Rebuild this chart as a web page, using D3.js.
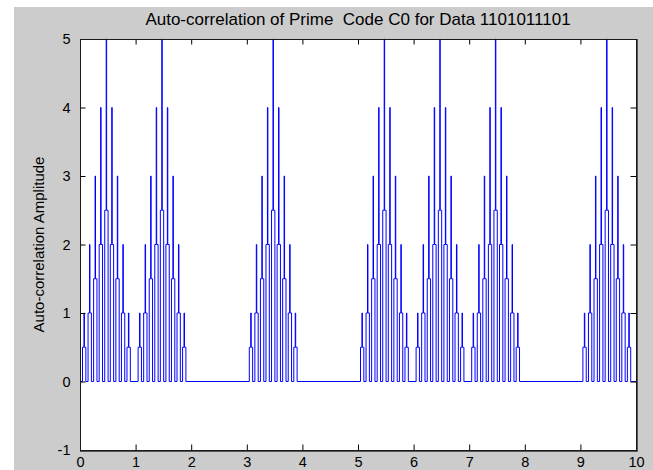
<!DOCTYPE html>
<html>
<head>
<meta charset="utf-8">
<script src="https://cdn.jsdelivr.net/npm/d3@7/dist/d3.min.js"></script>
<style>
  html, body { margin: 0; padding: 0; background: #ffffff; }
  svg { display: block; }
  text { font-family: "Liberation Sans", Arial, sans-serif; fill: #000; }
</style>
</head>
<body>
<script>
// Transmitted data bits; a correlation burst appears in every '1' slot
const dataBits = [1, 1, 0, 1, 0, 1, 1, 1, 0, 1];

// Lags of the correlation peaks inside one bit slot (in bit units)
const peakLags = [0.075, 0.175, 0.275, 0.375, 0.475, 0.575, 0.675, 0.775, 0.875];
// Main peak amplitude at each lag
const peakValues = [1, 2, 3, 4, 5, 4, 3, 2, 1];
// Half-chip shoulder amplitude around each peak
const shoulderValues = [0.5, 1, 1.5, 2, 2.5, 2, 1.5, 1, 0.5];

const xTicks = [0, 1, 2, 3, 4, 5, 6, 7, 8, 9, 10];
const yTicks = [-1, 0, 1, 2, 3, 4, 5];

const titleText = "Auto-correlation of Prime  Code C0 for Data 1101011101";
const yLabelText = "Auto-correlation Amplitude";

const W = 653, H = 470;
const plot = { left: 80, right: 636, top: 39, bottom: 450 };

const svg = d3.select("body").append("svg")
  .attr("width", W).attr("height", H);

// figure background
svg.append("rect").attr("x", 14).attr("y", 7)
  .attr("width", W - 14).attr("height", H - 7)
  .attr("fill", "#cccccc");

const x = d3.scaleLinear().domain([0, 10]).range([plot.left, plot.right]);
const y = d3.scaleLinear().domain([-1, 5]).range([plot.bottom, plot.top]);

// axes area
svg.append("rect")
  .attr("x", plot.left).attr("y", plot.top)
  .attr("width", plot.right - plot.left).attr("height", plot.bottom - plot.top)
  .attr("fill", "#ffffff");

// build the sampled correlation trace as a polyline
const halfShoulder = 0.03;   // shoulder half-width (bit units)
const halfPeak = 0.004;      // main sample half-width (bit units)
const pts = [[0, 0]];
dataBits.forEach((bit, b) => {
  if (!bit) return;
  peakLags.forEach((lag, i) => {
    const c = b + lag, h = peakValues[i], s = shoulderValues[i];
    pts.push([c - halfShoulder, 0], [c - halfShoulder, s],
             [c - halfPeak, s], [c - halfPeak, h],
             [c + halfPeak, h], [c + halfPeak, s],
             [c + halfShoulder, s], [c + halfShoulder, 0]);
  });
});
pts.push([10, 0]);

const line = d3.line().x(d => x(d[0])).y(d => y(d[1]));

svg.append("clipPath").attr("id", "plotclip")
  .append("rect")
  .attr("x", plot.left).attr("y", plot.top - 1)
  .attr("width", plot.right - plot.left).attr("height", plot.bottom - plot.top + 1);

svg.append("path")
  .attr("d", line(pts))
  .attr("clip-path", "url(#plotclip)")
  .attr("fill", "none")
  .attr("stroke", "#0000ff")
  .attr("stroke-width", 1);

// axes with inward ticks on all four sides
const tickLen = 5.5;
const fmt = d => String(d);
const bottomAxis = d3.axisBottom(x).tickValues(xTicks).tickSize(-tickLen).tickPadding(tickLen + 1.5).tickFormat(fmt);
const topAxis = d3.axisTop(x).tickValues(xTicks).tickSize(-tickLen).tickFormat("");
const leftAxis = d3.axisLeft(y).tickValues(yTicks).tickSize(-tickLen).tickPadding(tickLen + 4).tickFormat(fmt);
const rightAxis = d3.axisRight(y).tickValues(yTicks).tickSize(-tickLen).tickFormat("");

function styleAxis(g) {
  g.select(".domain").remove();
  g.selectAll(".tick line").attr("stroke", "#000");
  g.selectAll(".tick text")
    .attr("font-family", "'Liberation Sans', Arial, sans-serif")
    .attr("font-size", 14.5).attr("fill", "#000");
}

svg.append("g").attr("transform", `translate(0,${plot.bottom})`).call(bottomAxis).call(styleAxis);
svg.append("g").attr("transform", `translate(0,${plot.top})`).call(topAxis).call(styleAxis);
svg.append("g").attr("transform", `translate(${plot.left},0)`).call(leftAxis).call(styleAxis);
svg.append("g").attr("transform", `translate(${plot.right},0)`).call(rightAxis).call(styleAxis);

// axes box
svg.append("rect")
  .attr("x", plot.left + 0.5).attr("y", plot.top + 0.5)
  .attr("width", plot.right - plot.left).attr("height", plot.bottom - plot.top)
  .attr("fill", "none").attr("stroke", "#1a1a1a").attr("stroke-width", 1);
svg.append("path")
  .attr("d", `M${plot.right + 1.5},${plot.top}V${plot.bottom + 1.5}H${plot.left}`)
  .attr("fill", "none").attr("stroke", "#555").attr("stroke-width", 1);

// title (double space kept)
svg.append("text")
  .attr("x", (plot.left + plot.right) / 2).attr("y", 25)
  .attr("text-anchor", "middle")
  .attr("font-size", 17)
  .style("white-space", "pre")
  .text(titleText);

// y axis label
svg.append("text")
  .attr("transform", `translate(44,${(plot.top + plot.bottom) / 2}) rotate(-90)`)
  .attr("text-anchor", "middle")
  .attr("font-size", 15)
  .text(yLabelText);
</script>
</body>
</html>
